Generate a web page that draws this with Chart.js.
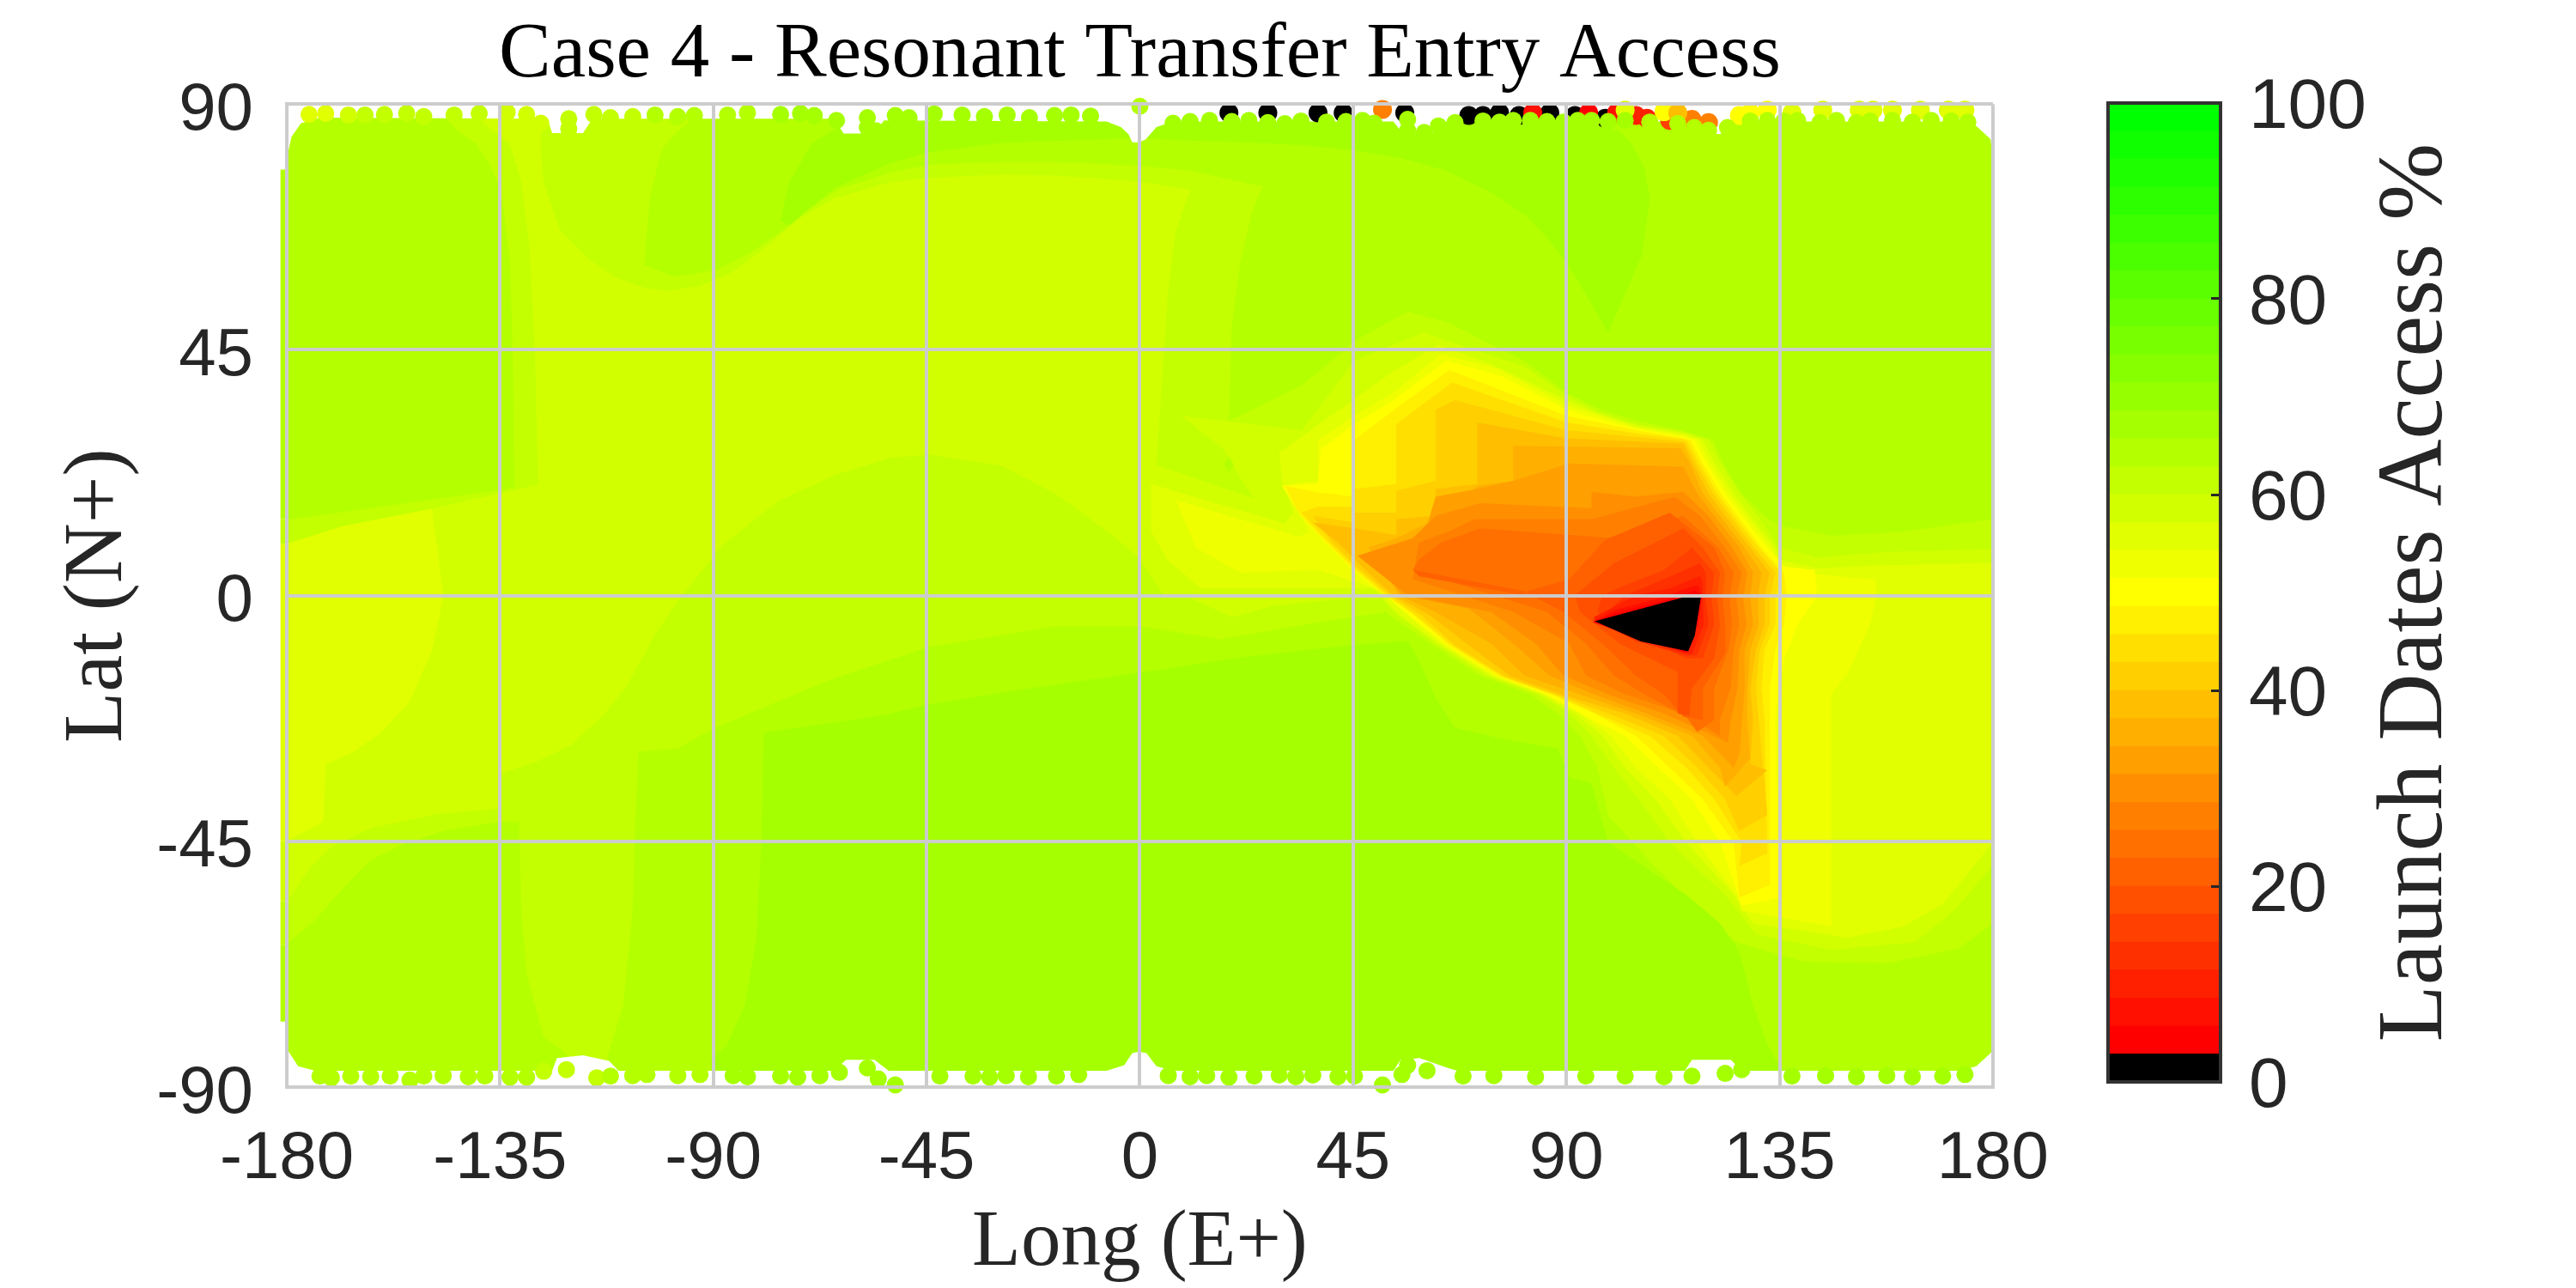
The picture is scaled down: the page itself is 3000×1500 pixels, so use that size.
<!DOCTYPE html>
<html>
<head>
<meta charset="utf-8">
<title>Case 4 - Resonant Transfer Entry Access</title>
<script src="https://cdn.jsdelivr.net/npm/chart.js@4/dist/chart.umd.min.js"></script>
<style>
  html, body { margin: 0; background: #fff; overflow: hidden; }
  canvas { position: absolute; top: 0; }
  #mapa { left: 0; }
  #barra { left: 2400px; }
</style>
</head>
<body>
<canvas id="mapa" width="2424" height="1500"></canvas>
<canvas id="barra" width="600" height="1500"></canvas>
<script>
// textos
const titleText = 'Case 4 - Resonant Transfer Entry Access';
const lonTitle = 'Long (E+)';
const latTitle = 'Lat (N+)';
const barTitle = 'Launch Dates Access %';

// ejes
const lonTicks = [-180, -135, -90, -45, 0, 45, 90, 135, 180];
const latTicks = [-90, -45, 0, 45, 90];
const barTicks = [0, 20, 40, 60, 80, 100];

// escalones de la barra de color (35 niveles)
const levelEdges = [0, 2.86, 5.71, 8.57, 11.43, 14.29, 17.14, 20, 22.86, 25.71, 28.57, 31.43, 34.29, 37.14, 40, 42.86, 45.71, 48.57, 51.43, 54.29, 57.14, 60, 62.86, 65.71, 68.57, 71.43, 74.29, 77.14, 80, 82.86, 85.71, 88.57, 91.43, 94.29, 97.14, 100];

// curvas de nivel en [lon, lat], de fuera hacia dentro
const fieldBase = [[-180, 90], [180, 90], [180, -90], [-180, -90]];
const contour61 = [[-147, 90], [26, 90], [25.9, 74.9], [23.5, 69.7], [21.2, 61], [19.4, 49.4], [18.8, 32], [34, 38.4], [46, 47], [56.5, 52], [65, 50], [74, 46], [81, 43], [90, 37.2], [96.5, 34.3], [104.7, 32], [114.7, 30.2], [121, 28.5], [123, 24.4], [127, 18.7], [131.8, 14.6], [135, 12.8], [146, 11], [161, 11.7], [180, 14], [180, -60], [172.9, -64.6], [157.6, -67.3], [140, -67], [126, -63.5], [120, -59.4], [108, -49], [98.8, -40.2], [96.5, -31.5], [92.9, -25.7], [88.2, -21.6], [82.4, -18.1], [71.8, -14.7], [61.2, -8.8], [51.8, -3], [37, -5], [17, -8], [0, -5.6], [-17.5, -5.6], [-44.5, -9.4], [-64.6, -15.2], [-76, -19.3], [-90.4, -24.5], [-97.5, -28], [-105.8, -28.6], [-106.4, -40.2], [-107, -57.7], [-109, -75], [-112.3, -84.4], [-112.7, -90], [-120, -90], [-121, -83.8], [-125.8, -80.9], [-129.4, -69.3], [-130.5, -57.7], [-131, -41.4], [-135.2, -41.4], [-147, -43.1], [-155.3, -45.5], [-162.3, -48.4], [-168.2, -53.6], [-174, -59.4], [-180, -63.8], [-180, 13.9], [-149.4, 17.6], [-132, 19.7], [-132.3, 43.6], [-132.9, 61], [-134.7, 73.9], [-137, 78.6], [-140, 82.7], [-144.7, 85.6]];
const contour58 = [[-138.8, 86.7], [-134, 90], [-127, 90], [-126.4, 85], [-126.4, 81.5], [-125.8, 75.7], [-124, 71], [-122.3, 66.9], [-116.4, 61.7], [-110.5, 58.2], [-104.6, 56.4], [-99.9, 55.8], [-92.8, 56.7], [-85.8, 59.3], [-78.7, 64], [-71.6, 69.2], [-64.6, 72.7], [-52.8, 75.7], [-44.5, 76.5], [-29.2, 77.1], [-17.5, 76.9], [0, 75.8], [10.6, 74.3], [7.6, 66.8], [5.9, 55.2], [3.5, 23.9], [24.1, 17.8], [21.2, 21.6], [17.6, 26.8], [8.8, 32.9], [34.1, 30.3], [38.2, 34.9], [45.3, 43], [60, 48.2], [69.4, 45.3], [81.2, 41.9], [90, 36.6], [96.5, 33.7], [104.7, 31.4], [114.7, 30], [120, 28.5], [122.4, 24.5], [126.5, 18.7], [130.4, 14.6], [134.7, 8.8], [143, 7], [158, 8], [180, 8.5], [180, -49.4], [171.8, -57.7], [163.5, -63.5], [145.9, -64.9], [130, -62], [123.5, -54.8], [111.8, -45.2], [105.3, -37.3], [100, -31.5], [95.3, -25.7], [90.6, -21.6], [84.1, -18.1], [72.9, -14.7], [62.4, -8.8], [53.5, -3], [51.2, -0.7], [44.7, -0.4], [28, -1.9], [19.4, -3.9], [10.6, -0.4], [5, 0], [0, 6.8], [-5.7, 11], [-17.5, 18.5], [-29.2, 23.8], [-44.5, 25.8], [-52.8, 25.2], [-64.6, 22], [-76.3, 17.3], [-88.1, 9.2], [-97.5, -1], [-102.3, -7.1], [-108.2, -16.4], [-112.9, -21.6], [-120, -27.4], [-127, -30.3], [-135.2, -32.7], [-135.2, -39], [-148.2, -40], [-162.3, -42.6], [-170.6, -46], [-175.3, -50.1], [-180, -56], [-180, 9.5], [-168.2, 12.7], [-149.4, 15.9], [-131.7, 19.4], [-127, 20.3], [-127.6, 43.6], [-128.8, 64], [-130.5, 75.7], [-132.9, 82.7]];
const north64 = [[-93, 90], [-95.2, 86.7], [-98.7, 84], [-101, 81.5], [-103.4, 72.7], [-104.6, 60.5], [-98.1, 58.4], [-89.3, 59.6], [-82.2, 62.8], [-76.3, 66.3], [-70.4, 70.4], [-63.4, 74.5], [-52.8, 77.4], [-44.5, 78.9], [-29.2, 79.4], [-17.5, 79.4], [0, 78.7], [10.6, 77.8], [25.9, 74.9], [30, 90]];
const north67 = [[-56, 90], [-60, 86.7], [-64.6, 85.3], [-69.3, 82.7], [-74, 75.7], [-75.8, 68.7], [-74, 67.8], [-64.6, 74.5], [-52.8, 79.2], [-44.5, 81.2], [-29.2, 82.9], [0, 83.8], [10.6, 83.3], [22.4, 83], [34.1, 82.5], [44.7, 81.6], [55.3, 80.1], [64.7, 77.8], [74.1, 73.8], [81.2, 69.7], [85.9, 65.6], [90, 61], [92.9, 56.9], [98.8, 48.2], [102.4, 55.2], [105.9, 62.2], [107.6, 72.6], [106.5, 78.4], [103.5, 83], [101.2, 85.1], [92.9, 87.1], [92.9, 90]];
const south67 = [[-79.3, -25.1], [-54, -21.9], [-44.5, -19.9], [-23.3, -17], [0, -14.1], [22.4, -11.2], [44.7, -9.1], [56.5, -8.3], [58.8, -11.7], [62.4, -18.7], [66.5, -24.2], [75.3, -26], [88.2, -28], [90.6, -33.3], [95.3, -34.4], [98.8, -45.2], [115.3, -54.8], [122.4, -60], [126.5, -65.2], [129.4, -75.1], [132.4, -82.1], [135.3, -86.7], [144.7, -89], [144.7, -90], [-90.5, -90], [-90.5, -85], [-87, -82.1], [-83.4, -75.1], [-81, -63.5], [-79.9, -46]];
const spot64 = [[18.8, 25.5], [19.8, 24], [18.8, 22.5], [17.8, 24]];
const west55 = [[-180, 9.5], [-168.2, 12.7], [-149.4, 15.9], [-148, 7], [-147, -0.4], [-149.4, -10], [-154, -19.3], [-160, -25], [-165.9, -28.6], [-171.8, -30.9], [-172.3, -41.4], [-180, -44.9]];
const contour55 = [[62.9, 45.9], [74.1, 42.4], [90, 35.8], [96.5, 33.4], [104.7, 31.1], [114.7, 29.7], [118.8, 28.5], [121.2, 24.5], [125.3, 18.7], [128.8, 14.6], [134.1, 8.8], [135, 6.5], [143, 5], [156, 5.5], [180, 6], [180, -45.2], [169.4, -56.5], [161, -60.6], [149.4, -62.7], [129.4, -60], [125.3, -54.8], [115.3, -45.2], [108.8, -37.3], [102.4, -31.5], [97.6, -25.7], [91.8, -21.6], [84.7, -18.1], [74.1, -14.8], [62.9, -8.8], [54.1, -3], [49.4, 1.3], [12.9, 1.3], [5.9, 6.5], [2.4, 11.7], [2.4, 20.4], [30.6, 13.2], [32.4, 15.2], [30, 21], [29.4, 26.2], [45.3, 36], [52.9, 40.7]];
const contour53 = [[63.5, 44.2], [75.3, 41.6], [90, 34.9], [104.7, 30.8], [114.7, 29.4], [117.9, 28.5], [120.2, 24.5], [124.4, 18.7], [128, 14.6], [133.2, 8.8], [135.5, 5.5], [143, 3.9], [155.3, 2.9], [155.3, -0.4], [154.1, -5.3], [149.4, -14.1], [145.9, -18.1], [145.9, -60.6], [127, -57.7], [125.9, -54.8], [117.6, -45.2], [111.8, -37.3], [104.7, -31.5], [99.4, -25.7], [92.9, -21.6], [85.3, -18.1], [74.7, -14.8], [64.1, -9.1], [56.5, -3.6], [52, 0], [48.2, 1.8], [37.6, 4.7], [21.2, 4.2], [11.8, 8.8], [7.6, 17.5], [33.5, 10.8], [35.9, 11.7], [32.9, 15.8], [30, 20.1], [37.6, 21], [37.6, 28.5], [45.3, 32.9], [54.1, 37.5]];
const contour50 = [[64.7, 43], [76.5, 40.1], [90, 34], [104.7, 30.5], [114.7, 29.1], [117, 28.5], [119.4, 24.5], [123.5, 18.7], [127, 14.6], [132.4, 8.8], [135.9, 5.3], [142.4, 4.7], [142.9, 0], [138.8, -5.3], [135.9, -11.7], [134.7, -17], [134.1, -22.8], [134.7, -45], [135.3, -55.3], [127, -56.8], [122.4, -45], [116.5, -37.3], [109.4, -31.5], [102.4, -25.7], [94.1, -22.1], [86.5, -18.4], [75.9, -14.9], [65.3, -9.4], [57.6, -4.2], [51.8, 0], [45.3, 4.4], [39.4, 9.4], [34.1, 14.6], [30, 20.1], [37.6, 20.4], [38.2, 26.8], [45.3, 31.4], [54.1, 36.1]];
const contour47 = [[65.3, 41.3], [90, 32.9], [104.7, 30.3], [114.7, 28.8], [116.2, 28.5], [118.6, 24.5], [122.6, 18.7], [126.1, 14.6], [131.2, 8.8], [135.9, 4.2], [136.5, 0], [135.9, -5.3], [134.1, -10], [132.9, -17], [132.9, -28.6], [132.9, -53], [126.5, -55.3], [125.3, -45.2], [118.8, -37.3], [111.8, -31.5], [104.7, -25.7], [95.9, -21.6], [87.6, -18.4], [75.9, -14.8], [65.3, -9.1], [57, -3], [51.8, 0], [45.3, 4.7], [39.4, 9.7], [33.5, 15.2], [30.6, 20.1], [37.6, 18.9], [45.3, 18.1], [45.3, 28.5], [54.1, 34.3]];
const contour44 = [[65.9, 39], [90, 31.7], [104.7, 29.7], [114.7, 28.6], [115.5, 28.3], [117.9, 24.5], [121.8, 18.7], [125.3, 14.6], [130.6, 8.8], [135.3, 4.2], [134.1, -0.4], [134.1, -5.3], [131.8, -10], [131.2, -17], [131.8, -22.8], [132.4, -47.2], [126.5, -49.5], [127, -45.2], [121.2, -37.3], [115.3, -31.5], [107.6, -25.7], [96.5, -21.6], [88.2, -18.4], [76.5, -14.8], [65.9, -9.1], [58.2, -3.6], [52.4, 0], [45.9, 4.7], [40, 9.7], [34.1, 15.2], [37.6, 16.3], [45.3, 16.3], [45.3, 19.5], [54.1, 20.4], [54.1, 31.4]];
const contour41 = [[66.5, 35.8], [90, 30.3], [114.7, 28.2], [115.1, 28], [117.2, 24.5], [121, 18.7], [124.5, 14.6], [129.6, 8.8], [134.1, 4.2], [132.9, -0.4], [132.9, -5.3], [130.8, -10], [130, -17], [130.6, -22.8], [132.4, -40.2], [126.5, -43.1], [123.5, -37.3], [117.6, -31.5], [110.6, -25.7], [98.8, -21.6], [88.8, -18.4], [77, -14.8], [66.5, -9.1], [59.4, -3.6], [53, 0], [46.5, 4.7], [40.6, 9.7], [36.5, 14.6], [45.3, 13.4], [45.3, 15.2], [54.1, 15.2], [54.1, 19.2], [62.4, 21], [62.4, 34]];
const contour38 = [[71.2, 31.7], [90, 28.8], [114.7, 27.8], [116.5, 24.5], [120, 18.7], [123.5, 14.6], [128.8, 8.8], [132.9, 4.2], [131.8, -0.4], [131.8, -5.3], [130, -10], [128.8, -17], [129.4, -22.8], [128.8, -30.9], [132.4, -32], [125.9, -36.7], [120, -31.5], [113.5, -25.7], [102.4, -21.6], [90, -18.4], [78.2, -14.8], [69.4, -9.1], [61.2, -3.6], [53.5, 0], [47.6, 4.7], [41.8, 9.7], [36.5, 13.4], [45.3, 12.3], [54.1, 11.1], [54.1, 14], [62.4, 14.6], [62.4, 19.5], [71.2, 20.4]];
const contour36 = [[78.8, 27.4], [114.1, 27], [115.9, 24.5], [118.8, 18.7], [122.4, 14.6], [127.6, 8.8], [131.2, 4.2], [130.4, -0.4], [130.6, -5.3], [128.8, -10], [128.2, -17], [128.2, -22.8], [128.8, -29.8], [123.5, -35], [122.4, -31.5], [116.5, -25.7], [104.7, -21.6], [92.9, -18.1], [81.2, -14.7], [74.1, -8.8], [62.4, -3], [54.7, 0], [48.2, 8.8], [54.1, 10.5], [62.4, 14], [71.2, 20.1], [78.8, 21]];
const contour33 = [[78.8, 21], [90.6, 24.2], [114.7, 23.6], [117.6, 18.7], [121.2, 14.6], [126.5, 8.8], [129.4, 4.2], [128.8, -0.4], [129.4, -5.3], [127.6, -10], [127.6, -17], [127.1, -22.8], [126.5, -29.2], [125.3, -31.5], [118.8, -25.7], [107, -21.6], [95.9, -18.1], [86.5, -14.7], [78.8, -8.8], [69.4, -2.4], [55.3, 0], [49.4, 7.6], [60, 11.1], [62.4, 18.1], [71.2, 19.5]];
const contour30 = [[104.7, 18.1], [114.7, 19], [120, 14.6], [125, 8.8], [128.2, 4.2], [127.3, -0.4], [128, -5.3], [126.5, -10], [126.1, -17], [124.7, -22.8], [124.1, -26.9], [121.2, -25.7], [110.6, -21.6], [98.8, -18.1], [89.4, -14.7], [83.5, -8.8], [74.1, -3], [56.5, 0], [45.9, 7.3], [57.6, 10.5], [62.4, 14.6], [71.8, 16.9], [95.3, 16], [95.3, 19]];
const contour27 = [[95.3, 14], [112.9, 18.1], [118.2, 14.6], [123.5, 8.8], [127, 4.2], [125.9, -0.4], [126.5, -5.3], [125.3, -10], [124.7, -17], [122.4, -22.8], [122.4, -25.7], [114.7, -21.6], [102.4, -18.1], [94.1, -14.7], [90.6, -8.8], [78.8, -3], [57.6, 3], [58.8, 9.7], [65.9, 12], [70.6, 14]];
const contour24 = [[98.8, 10.6], [114.7, 14.6], [122.1, 8.8], [125.3, 4.2], [124.5, -0.4], [125, -5.3], [124.2, -10], [121.2, -17], [121.2, -22.8], [117.6, -25], [115.3, -22.2], [106.5, -18.1], [100, -14.7], [94.1, -8.8], [85.9, -3], [57.6, 4.7], [58.8, 6.5], [63.5, 9.7], [71.8, 12.3]];
const contour21 = [[98.2, 10.2], [111.8, 15.2], [121.2, 8.8], [123.5, 4.2], [123, -0.4], [123.5, -5.3], [123.5, -10.6], [118.8, -17], [118.8, -22.8], [114.7, -22.2], [110.6, -18.1], [104.7, -14.7], [97.6, -8.8], [89.4, -3], [81.2, 0.7], [90.6, 3]];
const streak21 = [[57.6, 4.7], [81.2, 0.8], [81.2, 0], [59, 3.5]];
const contour18 = [[100, 5.9], [114.7, 12.3], [118.8, 8.8], [122.4, 4.2], [121.8, -0.4], [122.4, -5.3], [121.2, -11.5], [116.5, -17], [115.9, -22], [113.5, -21.6], [113.5, -14], [101.2, -8.8], [92.9, -3], [91.8, 0]];
const contour16 = [[102.4, 1.9], [110.6, 4.7], [116.5, 8.8], [121.2, 4.2], [120.6, -0.4], [121.2, -5.3], [118.8, -11.5], [115.3, -11.5], [104.7, -7.1], [96.5, -3], [97.6, 0]];
const contour13 = [[102.4, 0], [110.6, 3], [118.2, 5.9], [119.4, 4.2], [119.4, -0.4], [120, -5.3], [117.6, -10.9], [115.3, -11], [104.7, -8.3], [96.5, -4.8]];
const contour10 = [[104.7, 0], [111.8, 1.3], [118.2, 3.6], [118.8, 2.4], [118.8, -0.4], [119, -5.3], [116.5, -10.7], [115.3, -10.7], [104.7, -7.7], [95.9, -5], [95.9, -3.9]];
const contour7 = [[111.8, 0], [114.1, 1], [117.6, 1.9], [118.2, 1.3], [118.6, -0.4], [117.9, -5.3], [115.3, -10.5], [104.7, -7.4], [95.6, -4.8], [100, -2.7]];
const contour4 = [[114.7, 0], [117, 1], [118, 0.4], [118.5, -0.4], [117.4, -5.3], [115.3, -10.4], [104.7, -7.2], [95.7, -4.8], [100, -3.3]];
const contour1 = [[96, -4.7], [115.3, -0.2], [118.4, -0.2], [117.1, -7.3], [115.7, -10.2], [105.7, -8.4]];

// borde irregular del campo, arriba y abajo (lo de fuera queda en blanco)
const northEdge = [[-180, 90], [-180, 80], [-179, 84], [-177, 86.5], [-173, 87.5], [-125, 87.3], [-124, 84.7], [-117.5, 84.7], [-115.5, 87.3], [-64.5, 87.3], [-62.5, 84.6], [-56, 84.6], [-54, 87], [-7, 86.8], [-4, 85.8], [-2.4, 84.5], [-1.6, 83], [-0.2, 83], [1.2, 83.5], [3.5, 85.8], [7, 86.8], [53.5, 86.8], [55.5, 84.6], [62, 84.7], [64.5, 86.8], [115, 86.8], [116.5, 85], [122.4, 84.5], [126.5, 86.8], [173, 86.8], [176.5, 86], [179.5, 83.6], [180, 80], [180, 90]];
const southEdge = [[-180, -90], [-180, -83], [-177.6, -86.2], [-174, -87], [-124, -87], [-123, -84.7], [-117.5, -84.2], [-112, -85.2], [-110, -87], [-64.5, -87], [-62, -85], [-56, -85], [-53, -87], [-7, -87], [-3.3, -86], [-1.6, -83.8], [-0.2, -83.5], [1.4, -83.8], [3.5, -86.2], [7, -87], [53.5, -87], [55, -85], [59, -84.7], [65, -86.5], [67, -87], [115, -87], [116.5, -85], [124.7, -85], [127, -87], [173, -87], [176.5, -86.2], [179.5, -83.8], [180, -83], [180, -90]];

// franja que asoma a la izquierda del recuadro: [valor, lat inicial, lat final]
const westRuns = [[64, 78, 14], [61, 14, 9.5], [55, 9.5, -45], [58, -45, -56], [61, -56, -64], [64, -64, -78]];

// puntos sueltos junto a los polos, detrás de la masa
const backLon = [18.8, 27, 37.6, 42.9, 55.9, 69.4, 72.4, 75.9, 80, 86.5, 91.8, 98.2, 82.9, 94.7, 100.6, 104.7, 107, 111.8, 51.2, 116.5, 120, 110.6, 102.4, 113.5, 126.5, 128.8, 132.4, 137.6, 144.1, 151.8, 154.7, 158.8, 164.7, 170.6, 174.1];
const backLat = [88.4, 88.4, 88.4, 88.4, 88.4, 87.9, 87.9, 88.4, 87.9, 88.4, 87.9, 87.4, 88.4, 88.4, 88.4, 87.9, 87.4, 87, 89, 87.2, 86.6, 88.6, 88.9, 88.4, 87.9, 88.4, 88.9, 88.4, 88.9, 88.9, 88.9, 88.9, 88.9, 88.9, 88.9];
const backValue = [1, 1, 1, 1, 1, 1, 1, 1, 1, 1, 1, 1, 7, 4, 7, 10, 10, 16, 27, 27, 27, 50, 55, 38, 50, 50, 50, 55, 55, 55, 55, 55, 55, 55, 55];

// puntos sueltos delante, borde norte
const topLon = [-175.3, -171.8, -167, -163.5, -159.4, -154.7, -151.1, -144.7, -139.4, -133.5, -129.4, -126.4, -120.5, -120.5, -115.2, -111.7, -107, -102.3, -97.5, -94, -87, -82.8, -75.8, -71.6, -68.7, -64, -57.5, -57.5, -55.7, -51.6, -48.7, -43.4, -37.5, -32.8, -28, -23.3, -18, -14.5, -10.4, 0, 7, 10.6, 14.7, 19.4, 23, 27, 30.6, 34, 39.4, 43.5, 47, 49.4, 56.5, 56.5, 60, 63, 66.5, 72.4, 75.9, 78.8, 82.4, 85.9, 89.4, 92.4, 95.3, 98.8, 102.4, 107.6, 113.5, 117, 120, 124, 128.8, 132.4, 135.9, 138.8, 143.5, 147, 151.2, 154.1, 158.8, 163, 167, 171.2, 174.7];
const topLat = [88.1, 88.3, 88, 88, 88.1, 88.3, 87.7, 88, 88.3, 88.5, 88.1, 86.5, 85.5, 87.3, 88.1, 87.5, 87.7, 88, 87.7, 87.9, 88, 88.4, 88.1, 88.3, 87.9, 87, 87.5, 85.7, 85.1, 87.9, 87.5, 88.2, 88, 87.7, 88, 87.5, 87.9, 88, 87.8, 89.6, 86.5, 86.8, 87, 86.8, 87, 86.6, 86.4, 86.9, 86.7, 86.8, 87, 86.5, 87.2, 85.2, 84.8, 86, 86.6, 86.9, 86.7, 87, 87, 86.8, 86.7, 87, 87, 86.8, 87, 86.7, 86.4, 85.7, 85.2, 85.7, 86.9, 87, 86.9, 87, 86.6, 87, 86.6, 86.9, 87, 86.7, 87, 86.9, 86.7];
const topValue = [55, 55, 58, 61, 61, 61, 61, 61, 61, 58, 58, 58, 61, 61, 61, 61, 61, 64, 64, 64, 64, 64, 67, 67, 67, 67, 67, 67, 67, 67, 67, 67, 67, 67, 67, 67, 67, 67, 67, 64, 67, 67, 67, 67, 67, 67, 67, 67, 67, 67, 67, 67, 67, 67, 67, 67, 67, 67, 67, 67, 67, 67, 67, 67, 67, 67, 67, 64, 64, 64, 64, 64, 64, 64, 64, 64, 64, 64, 64, 64, 64, 64, 64, 64, 64];

// puntos sueltos delante, borde sur
const bottomLon = [-173, -170.6, -166.5, -162.3, -158.2, -154, -151.1, -147, -141.7, -138.2, -132.9, -129.4, -125.8, -121, -114.6, -111.7, -107, -104, -97.5, -92.8, -85.8, -82.8, -75.8, -72.2, -67.5, -63.4, -57.5, -55.2, -51.6, -42.2, -35.2, -31.7, -28.2, -23.5, -17.6, -12.9, 6, 10.6, 14.1, 18.8, 24.1, 29.4, 32.9, 36.5, 41.8, 45.3, 51.2, 55.3, 56.5, 60.6, 68.2, 74.7, 83.5, 94.1, 102.4, 110.6, 116.5, 123.5, 127, 137.6, 144.7, 151.2, 157.6, 163, 169.4, 174.1];
const bottomLat = [-88, -88.3, -88, -88.1, -88, -88.7, -88, -87.9, -88.1, -88, -88.2, -88.2, -87.1, -86.8, -88.3, -88, -87.9, -87.7, -87.9, -87.7, -87.9, -88.1, -88, -88.2, -87.9, -87.3, -86.5, -88.5, -89.6, -88, -88, -88.2, -87.9, -88.1, -88, -87.7, -87.9, -88.1, -87.9, -88.2, -88, -87.8, -88.1, -87.8, -88.1, -88, -89.6, -87.7, -86, -87, -88, -87.9, -88.1, -88, -88, -88.1, -88, -87.5, -86.8, -88, -87.9, -88.1, -87.9, -88.1, -88, -87.7];
const bottomValue = [64, 64, 64, 64, 64, 64, 64, 64, 64, 64, 64, 64, 61, 61, 61, 64, 64, 64, 64, 64, 67, 67, 67, 67, 67, 67, 67, 67, 67, 67, 67, 67, 67, 67, 67, 67, 67, 67, 67, 67, 67, 67, 67, 67, 67, 67, 67, 67, 67, 67, 67, 67, 67, 67, 67, 67, 67, 67, 67, 67, 67, 67, 67, 67, 67, 67];

// valor de cada curva y orden de pintado
const bands = [
  [64, fieldBase], [61, contour61], [58, contour58], [64, north64], [67, north67], [67, south67], [64, spot64],
  [55, west55], [55, contour55], [53, contour53], [50, contour50], [47, contour47], [44, contour44],
  [41, contour41], [38, contour38], [36, contour36], [33, contour33], [30, contour30], [27, contour27],
  [24, contour24], [21, contour21], [21, streak21], [18, contour18], [16, contour16], [13, contour13],
  [10, contour10], [7, contour7], [4, contour4], [1, contour1]
];

// mapa de color: negro, rojo -> amarillo -> verde
function levelColor(value) {
  const k = Math.min(34, Math.floor(value / 100 * 35));
  if (k === 0) return '#000000';
  if (k <= 17) return `rgb(255,${Math.round(255 * (k - 1) / 16)},0)`;
  return `rgb(${Math.round(255 * (34 - k) / 17)},255,0)`;
}

const sansTicks = { family: '"Liberation Sans", Arial, sans-serif', size: 78 };
const serifFont = '"Liberation Serif", "Times New Roman", serif';
const inkColor = '#262626';
const gridColor = '#cccccc';

let order = 2000;
const datasets = [];

bands.forEach(([value, path]) => {
  datasets.push({
    type: 'line',
    data: path.map(p => ({ x: p[0], y: p[1] })),
    fill: 'shape',
    backgroundColor: levelColor(value),
    borderWidth: 0,
    pointRadius: 0,
    order: order--
  });
});

westRuns.forEach(run => {
  datasets.push({
    type: 'line',
    data: [{ x: -180.7, y: run[1] }, { x: -180.7, y: run[2] }],
    borderColor: levelColor(run[0]),
    borderWidth: 7,
    pointRadius: 0,
    fill: false,
    clip: false,
    order: order--
  });
});

[northEdge, southEdge].forEach(path => {
  datasets.push({
    type: 'line',
    data: path.map(p => ({ x: p[0], y: p[1] })),
    fill: 'shape',
    backgroundColor: '#ffffff',
    borderWidth: 0,
    pointRadius: 0,
    order: order--
  });
});

function dotSet(lons, lats, values, radius) {
  return {
    type: 'scatter',
    data: lons.map((lon, i) => ({ x: lon, y: lats[i] })),
    pointRadius: radius,
    pointBorderWidth: 0,
    pointBackgroundColor: values.map(levelColor),
    clip: false,
    order: order--
  };
}

datasets.push(dotSet(backLon, backLat, backValue, 11));
datasets.push(dotSet(topLon, topLat, topValue, 10));
datasets.push(dotSet(bottomLon, bottomLat, bottomValue, 10));

new Chart(document.getElementById('mapa'), {
  type: 'line',
  data: { datasets },
  options: {
    responsive: false,
    animation: false,
    devicePixelRatio: 1,
    layout: { padding: { right: 80 } },
    plugins: {
      legend: { display: false },
      tooltip: { enabled: false },
      title: {
        display: true,
        fullSize: false,
        text: titleText,
        color: '#000000',
        font: { family: serifFont, size: 91, weight: 'normal' },
        padding: { top: 10, bottom: 2 }
      }
    },
    scales: {
      x: {
        type: 'linear',
        min: -180,
        max: 180,
        afterBuildTicks: s => { s.ticks = lonTicks.map(v => ({ value: v })); },
        afterFit: s => { s.height = 234; },
        ticks: { color: inkColor, font: sansTicks, padding: 38, autoSkip: false, maxRotation: 0 },
        grid: { color: gridColor, lineWidth: 4, z: 1, drawTicks: false },
        border: { color: gridColor, width: 4, z: 1 },
        title: {
          display: true,
          text: lonTitle,
          color: inkColor,
          font: { family: serifFont, size: 93 },
          padding: { top: 0, bottom: -4 }
        }
      },
      // la escala y lleva la rejilla; los rótulos van en yLabels, algo más abajo
      y: {
        type: 'linear',
        min: -90,
        max: 90,
        afterBuildTicks: s => { s.ticks = latTicks.map(v => ({ value: v })); },
        afterFit: s => { s.width = 0; },
        ticks: { display: false },
        grid: { color: gridColor, lineWidth: 4, z: 1, drawTicks: false },
        border: { color: gridColor, width: 4, z: 1 }
      },
      yLabels: {
        type: 'linear',
        position: 'left',
        min: -88.74,
        max: 91.26,
        afterBuildTicks: s => { s.ticks = latTicks.map(v => ({ value: v })); },
        afterFit: s => { s.width = 334; },
        ticks: { color: inkColor, font: sansTicks, padding: 31, autoSkip: false },
        grid: { display: false },
        border: { display: false },
        title: {
          display: true,
          text: latTitle,
          color: inkColor,
          font: { family: serifFont, size: 97 },
          padding: { top: 57, bottom: 0 }
        }
      }
    }
  }
});

// marco de la barra de color y su rótulo, girado hacia arriba
const barFrame = {
  id: 'barFrame',
  afterDraw(chart) {
    const { ctx, chartArea: a } = chart;
    ctx.save();
    ctx.strokeStyle = '#333333';
    ctx.lineWidth = 4;
    ctx.strokeRect(a.left, a.top, a.right - a.left, a.bottom - a.top);
    ctx.translate(415, (a.top + a.bottom) / 2);
    ctx.rotate(-Math.PI / 2);
    ctx.font = `108px ${serifFont}`;
    ctx.fillStyle = inkColor;
    ctx.textAlign = 'center';
    ctx.textBaseline = 'middle';
    ctx.fillText(barTitle, 0, 0);
    ctx.restore();
  }
};

new Chart(document.getElementById('barra'), {
  type: 'bar',
  data: {
    labels: [''],
    datasets: levelEdges.slice(1).map((top, i) => ({
      data: [[levelEdges[i], top]],
      backgroundColor: levelColor((levelEdges[i] + top) / 2),
      borderWidth: 0,
      barPercentage: 1,
      categoryPercentage: 1,
      grouped: false
    }))
  },
  options: {
    responsive: false,
    animation: false,
    devicePixelRatio: 1,
    layout: { padding: { left: 55, top: 120, bottom: 240 } },
    plugins: { legend: { display: false }, tooltip: { enabled: false } },
    scales: {
      x: { display: false },
      y: {
        position: 'right',
        min: 0,
        max: 100,
        afterBuildTicks: s => { s.ticks = barTicks.map(v => ({ value: v })); },
        afterFit: s => { s.width = 0; },
        ticks: { display: false },
        grid: { drawOnChartArea: false, drawTicks: true, tickLength: -11, color: inkColor, lineWidth: 3, z: 1 },
        border: { display: false }
      },
      yLabels: {
        position: 'right',
        min: 0.6,
        max: 100.6,
        afterBuildTicks: s => { s.ticks = barTicks.map(v => ({ value: v })); },
        afterFit: s => { s.width = 414; },
        ticks: { color: inkColor, font: { family: sansTicks.family, size: 82 }, padding: 25, autoSkip: false },
        grid: { display: false },
        border: { display: false }
      }
    }
  },
  plugins: [barFrame]
});
</script>
</body>
</html>
